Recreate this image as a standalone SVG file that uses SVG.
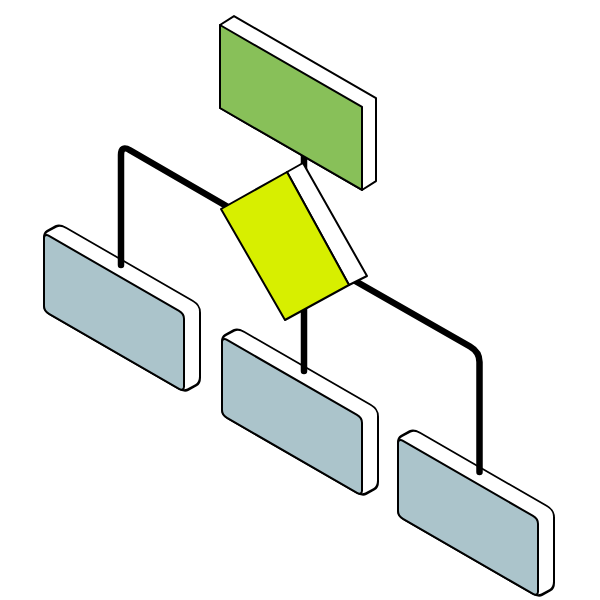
<svg xmlns="http://www.w3.org/2000/svg" width="600" height="600" viewBox="0 0 600 600">
<style>
.side{fill:#ffffff;stroke:#000;stroke-width:2;stroke-linejoin:round;vector-effect:non-scaling-stroke}
.face{stroke:#000;stroke-width:2;stroke-linejoin:round;vector-effect:non-scaling-stroke}
.grey{fill:#abc4cb}
.green{fill:#88c059}
.yellow{fill:#d7ef00}
.wire{fill:none;stroke:#000;stroke-width:6.5;stroke-linecap:round;stroke-linejoin:round}
</style>
<defs>
<path id="slab" d="M0,72 L0,5 Q0,0 3.5,-4 L12,-13.5 Q16,-18 22,-18 L149,-18 Q156,-18 156,-11 L156,54 Q156,60 152,64.5 L144,73.5 Q140,78 134,78 L6,78 Q0,78 0,72 Z"/>
</defs>
<rect width="600" height="600" fill="#fff"/>
<g id="box-left" transform="translate(44,233) skewY(30)">
<use href="#slab" class="side"/>
<rect class="face grey" x="0" y="0" width="140" height="78" rx="5"/>
</g>
<g id="box-middle" transform="translate(222,337) skewY(30)">
<use href="#slab" class="side"/>
<rect class="face grey" x="0" y="0" width="140" height="78" rx="5"/>
</g>
<g id="box-right" transform="translate(398,438) skewY(30)">
<use href="#slab" class="side"/>
<rect class="face grey" x="0" y="0" width="140" height="78" rx="5"/>
</g>
<g id="connectors">
<path class="wire" d="M304,140 V172"/>
<path class="wire" d="M121,265 V155 Q121,145 130,150.2 L228,207"/>
<path class="wire" d="M304,300 V371"/>
<path class="wire" d="M350,278 L470,346.5 Q479.5,352 479.5,362 V472"/>
</g>
<g id="box-top" transform="translate(220,25) skewY(30)">
<polygon class="side" points="0,0 14,-17 156,-17 156,66 142,83 0,83"/>
<rect class="face green" x="0" y="0" width="142" height="83"/>
</g>
<g id="box-center">
<polygon class="side" points="287,172 303,163 367,276 349,285"/>
<polygon class="face yellow" points="221,209 287,172 349,285 285,320"/>
</g>
</svg>
